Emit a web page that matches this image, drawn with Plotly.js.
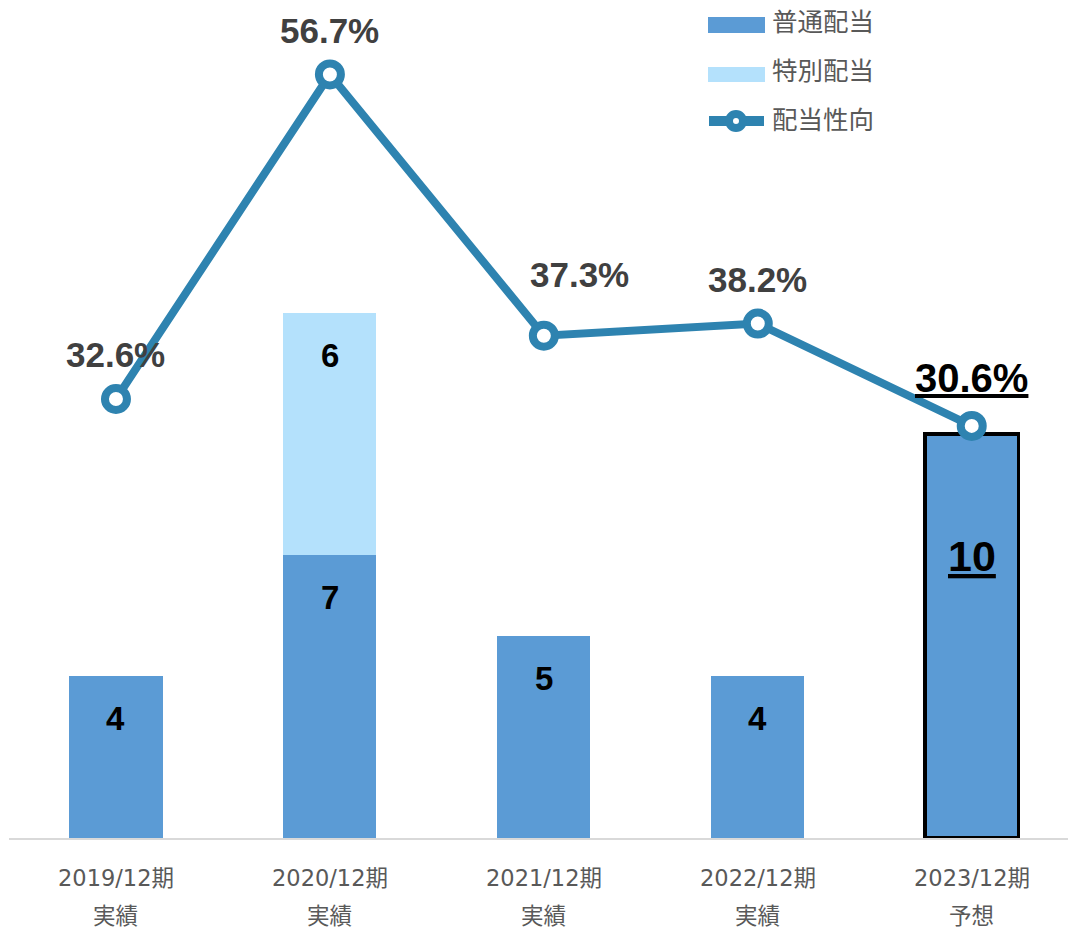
<!DOCTYPE html>
<html>
<head>
<meta charset="utf-8">
<script src="https://cdn.plot.ly/plotly-3.0.1.min.js"></script>
<style>html,body{margin:0;padding:0;background:#fff;}#chart{width:1068px;height:931px;}</style>
</head>
<body>
<div id="chart"></div>
<script>
// ---- data ----
const periods = ["2019/12期", "2020/12期", "2021/12期", "2022/12期", "2023/12期"];
const periodKinds = ["実績", "実績", "実績", "実績", "予想"];
const ordinaryDividend = [4, 7, 5, 4, 10];
const specialDividend = [0, 6, 0, 0, 0];
const payoutRatio = [32.6, 56.7, 37.3, 38.2, 30.6];
const seriesNames = ["普通配当", "特別配当", "配当性向"];

// ---- styling / layout helpers ----
const W = 1068, H = 931;
const M = {l: 9, r: 0, t: 30, b: 93};
const plotW = W - M.l - M.r, plotH = H - M.t - M.b;
const px = x => (x - M.l) / plotW;
const py = y => (H - M.b - y) / plotH;
const darkBlue = '#5B9BD5', lightBlue = '#B4E1FC', lineBlue = '#2E83B0';
const lastIdx = periods.length - 1;
const catFont = 'DejaVu Sans, Noto Sans CJK JP, sans-serif';
const boldFont = 'Liberation Sans, Arial, sans-serif';

const traces = [
  {
    type: 'bar', name: seriesNames[0], x: periods, y: ordinaryDividend,
    marker: {color: darkBlue, line: {color: '#000', width: periods.map((_, i) => i === lastIdx ? 3.5 : 0)}},
    hoverinfo: 'skip'
  },
  {
    type: 'bar', name: seriesNames[1], x: periods, y: specialDividend,
    marker: {color: lightBlue}, hoverinfo: 'skip'
  },
  {
    type: 'scatter', mode: 'lines+markers', name: seriesNames[2], x: periods, y: payoutRatio, yaxis: 'y2',
    line: {color: lineBlue, width: 8},
    marker: {size: 22, color: '#fff', line: {color: lineBlue, width: 8}},
    hoverinfo: 'skip'
  }
];

const annotations = [];
periods.forEach((p, i) => {
  const isLast = i === lastIdx;
  const t = ordinaryDividend[i];
  annotations.push({
    x: p, y: t, xref: 'x', yref: 'y', yanchor: 'middle', showarrow: false,
    yshift: isLast ? -122 : -42,
    text: isLast ? '<u>' + t + '</u>' : String(t),
    font: {family: boldFont, size: isLast ? 43 : 33, color: '#000', weight: 700}
  });
  if (specialDividend[i] > 0) {
    annotations.push({
      x: p, y: ordinaryDividend[i] + specialDividend[i], xref: 'x', yref: 'y', yanchor: 'middle', showarrow: false,
      yshift: -43, text: String(specialDividend[i]),
      font: {family: boldFont, size: 33, color: '#000', weight: 700}
    });
  }
  const lbl = payoutRatio[i].toFixed(1) + '%';
  annotations.push({
    x: p, y: payoutRatio[i], xref: 'x', yref: 'y2', yanchor: 'middle', showarrow: false,
    yshift: i === 2 ? 61 : (isLast ? 48 : 44), xshift: i === 2 ? 36 : 0,
    text: isLast ? '<u>' + lbl + '</u>' : lbl,
    font: {family: boldFont, size: isLast ? 40 : 35, color: isLast ? '#000' : '#404040', weight: 700}
  });
  annotations.push({
    x: p, y: 0, xref: 'x', yref: 'paper', yanchor: 'middle', showarrow: false, yshift: -40,
    text: p, font: {family: catFont, size: 22.5, color: '#595959'}
  });
  annotations.push({
    x: p, y: 0, xref: 'x', yref: 'paper', yanchor: 'middle', showarrow: false, yshift: -78,
    text: periodKinds[i], font: {family: catFont, size: 22.5, color: '#595959'}
  });
});

// custom legend
const legY = [22, 71, 120];
seriesNames.forEach((n, i) => {
  annotations.push({
    x: px(770), y: py(legY[i]), xref: 'paper', yref: 'paper', xanchor: 'left', yanchor: 'middle',
    showarrow: false, text: n, font: {family: catFont, size: 25.5, color: '#595959'}
  });
});
const shapes = [
  {type: 'rect', xref: 'paper', yref: 'paper', x0: px(708), x1: px(765), y0: py(33), y1: py(17), fillcolor: darkBlue, line: {width: 0}},
  {type: 'rect', xref: 'paper', yref: 'paper', x0: px(708), x1: px(765), y0: py(82), y1: py(67), fillcolor: lightBlue, line: {width: 0}},
  {type: 'line', xref: 'paper', yref: 'paper', x0: px(709), x1: px(764), y0: py(121), y1: py(121), line: {color: lineBlue, width: 10}},
  {type: 'circle', xref: 'paper', yref: 'paper', x0: px(729), x1: px(743), y0: py(128), y1: py(114), fillcolor: '#fff', line: {color: lineBlue, width: 8}}
];

const layout = {
  width: W, height: H,
  margin: M,
  paper_bgcolor: '#fff', plot_bgcolor: 'rgba(0,0,0,0)',
  barmode: 'stack', bargap: 0.565,
  showlegend: false,
  xaxis: {
    type: 'category', range: [-0.5, 4.45], showticklabels: false, ticks: '',
    showgrid: false, zeroline: false, showline: true, linecolor: '#D9D9D9', linewidth: 2
  },
  yaxis: {range: [0, 20], visible: false, showgrid: false, zeroline: false},
  yaxis2: {range: [0, 60], overlaying: 'y', side: 'right', visible: false, showgrid: false, zeroline: false},
  annotations: annotations,
  shapes: shapes,
  font: {family: 'Noto Sans CJK JP, sans-serif'}
};

Plotly.newPlot('chart', traces, layout, {staticPlot: true, displayModeBar: false});
</script>
</body>
</html>
